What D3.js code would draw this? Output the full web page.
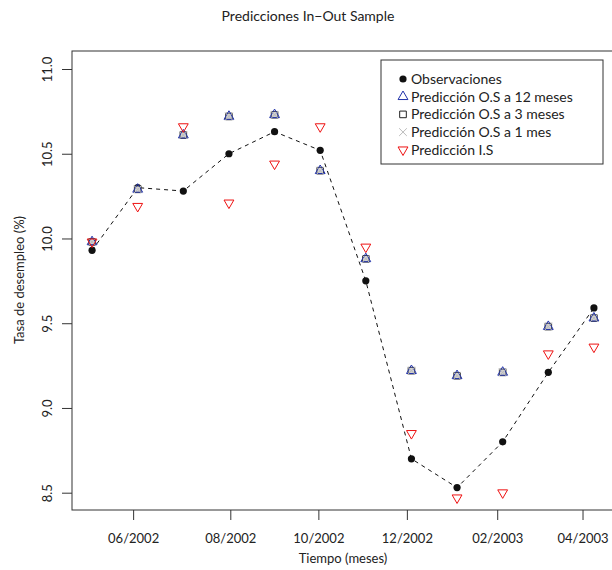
<!DOCTYPE html>
<html><head><meta charset="utf-8">
<script src="https://cdn.jsdelivr.net/npm/d3@7"></script>
<style>body{margin:0;background:#fff}svg{display:block;font-family:Lato,"Open Sans",sans-serif}</style>
</head><body><div id="chart"></div>
<script>
const months = ["05/2002","06/2002","07/2002","08/2002","09/2002","10/2002","11/2002","12/2002","01/2003","02/2003","03/2003","04/2003"];
const observaciones = [9.93,10.30,10.28,10.50,10.63,10.52,9.75,8.70,8.53,8.80,9.21,9.59];
const predOS12 = [9.98,10.29,10.61,10.72,10.73,10.40,9.88,9.22,9.19,9.21,9.48,9.53];
const predOS3  = [9.98,10.29,10.61,10.72,10.73,10.40,9.88,9.22,9.19,9.21,9.48,9.53];
const predOS1  = [9.98,10.29,10.61,10.72,10.73,10.40,9.88,9.22,9.19,9.21,9.48,9.53];
const predIS   = [9.98,10.19,10.66,10.21,10.44,10.66,9.95,8.85,8.47,8.50,9.32,9.36];
const xTickPos = [0.9,3.03,4.96,6.9,8.88,10.75];
const xTickLabels = ["06/2002","08/2002","10/2002","12/2002","02/2003","04/2003"];
const yTicks = [8.5,9.0,9.5,10.0,10.5,11.0];

const W=612,H=570;
const m={left:72,right:614,top:51,bottom:510};
const svg=d3.select("#chart").append("svg").attr("width",W).attr("height",H);
const x=d3.scaleLinear().domain([-0.44,11.44]).range([m.left,m.right]);
const y=d3.scaleLinear().domain([8.5,11.0]).range([492.7,69]);

// box
svg.append("rect").attr("x",m.left).attr("y",m.top).attr("width",m.right-m.left).attr("height",m.bottom-m.top)
  .attr("fill","none").attr("stroke","#333").attr("stroke-width",1);

// axes
const xa=svg.append("g").attr("transform",`translate(0,${m.bottom})`)
  .call(d3.axisBottom(x).tickValues(xTickPos).tickFormat((d,i)=>xTickLabels[i]).tickSize(10).tickPadding(14));
xa.select(".domain").remove();
xa.selectAll("line").attr("stroke","#333");
xa.selectAll("text").attr("font-size",13).attr("fill","#222").attr("font-family","Lato,sans-serif");

const ya=svg.append("g").attr("transform",`translate(${m.left},0)`)
  .call(d3.axisLeft(y).tickValues(yTicks).tickFormat(d3.format(".1f")).tickSize(10));
ya.select(".domain").remove();
ya.selectAll("line").attr("stroke","#333");
ya.selectAll("text").attr("font-size",13).attr("fill","#222").attr("font-family","Lato,sans-serif")
  .attr("text-anchor","middle").attr("x",0).attr("dy",0)
  .attr("transform","translate(-23,0) rotate(-90)").attr("dominant-baseline","middle");

// titles
svg.append("text").attr("x",308).attr("y",21).attr("text-anchor","middle").attr("font-size",14).attr("fill","#222").text("Predicciones In\u2212Out Sample");
svg.append("text").attr("x",343).attr("y",563).attr("text-anchor","middle").attr("font-size",13).attr("fill","#222").text("Tiempo (meses)");
svg.append("text").attr("transform",`translate(24,280) rotate(-90)`).attr("text-anchor","middle").attr("font-size",13).attr("fill","#222").text("Tasa de desempleo (%)");

const idx=d3.range(months.length);
// dashed line
svg.append("path").datum(idx).attr("fill","none").attr("stroke","#111").attr("stroke-width",1)
  .attr("stroke-dasharray","4,4")
  .attr("d",d3.line().x(i=>x(i)).y(i=>y(observaciones[i])));

const tri=d3.symbol().type(d3.symbolTriangle).size(42);
const sq=d3.symbol().type(d3.symbolSquare).size(44);
const cross=d3.symbol().type(d3.symbolX).size(40);

function drawSeries(vals,kind,g){
  g.selectAll("path").data(idx).join("path")
   .attr("transform",i=>`translate(${x(i)},${y(vals[i])})`+(kind==="down"?" rotate(180)":""))
   .attr("d",kind==="up"||kind==="down"?tri():kind==="sq"?sq():cross())
   .attr("fill",kind==="sq"?"#d0d0d0":"none")
   .attr("stroke",kind==="up"?"#2233aa":kind==="down"?"#ee1111":kind==="sq"?"#444":"#bbbbbb")
   .attr("stroke-width",1);
}
svg.append("g").selectAll("circle").data(idx).join("circle")
  .attr("cx",i=>x(i)).attr("cy",i=>y(observaciones[i])).attr("r",3.6).attr("fill","#111");
drawSeries(predOS3,"sq",svg.append("g"));
drawSeries(predOS12,"up",svg.append("g"));
drawSeries(predOS1,"x",svg.append("g"));
drawSeries(predIS,"down",svg.append("g"));

// legend
const lg=svg.append("g");
lg.append("rect").attr("x",381).attr("y",60).attr("width",222).attr("height",104).attr("fill","#fff").attr("stroke","#333");
const items=[["Observaciones","dot"],["Predicci\u00f3n O.S a 12 meses","up"],["Predicci\u00f3n O.S a 3 meses","sq"],["Predicci\u00f3n O.S a 1 mes","x"],["Predicci\u00f3n I.S","down"]];
items.forEach((it,k)=>{
  const yy=79+k*17.7, xx=403;
  if(it[1]==="dot") lg.append("circle").attr("cx",xx).attr("cy",yy).attr("r",3.6).attr("fill","#111");
  else lg.append("path").attr("transform",`translate(${xx},${yy})`+(it[1]==="down"?" rotate(180)":""))
    .attr("d",it[1]==="up"||it[1]==="down"?tri():it[1]==="sq"?sq():cross()).attr("fill","none")
    .attr("stroke",it[1]==="up"?"#2233aa":it[1]==="down"?"#ee1111":it[1]==="sq"?"#222":"#bbbbbb");
  lg.append("text").attr("x",411).attr("y",yy).attr("dy","0.35em").attr("font-size",14).attr("fill","#222").text(it[0]);
});
</script></body></html>
